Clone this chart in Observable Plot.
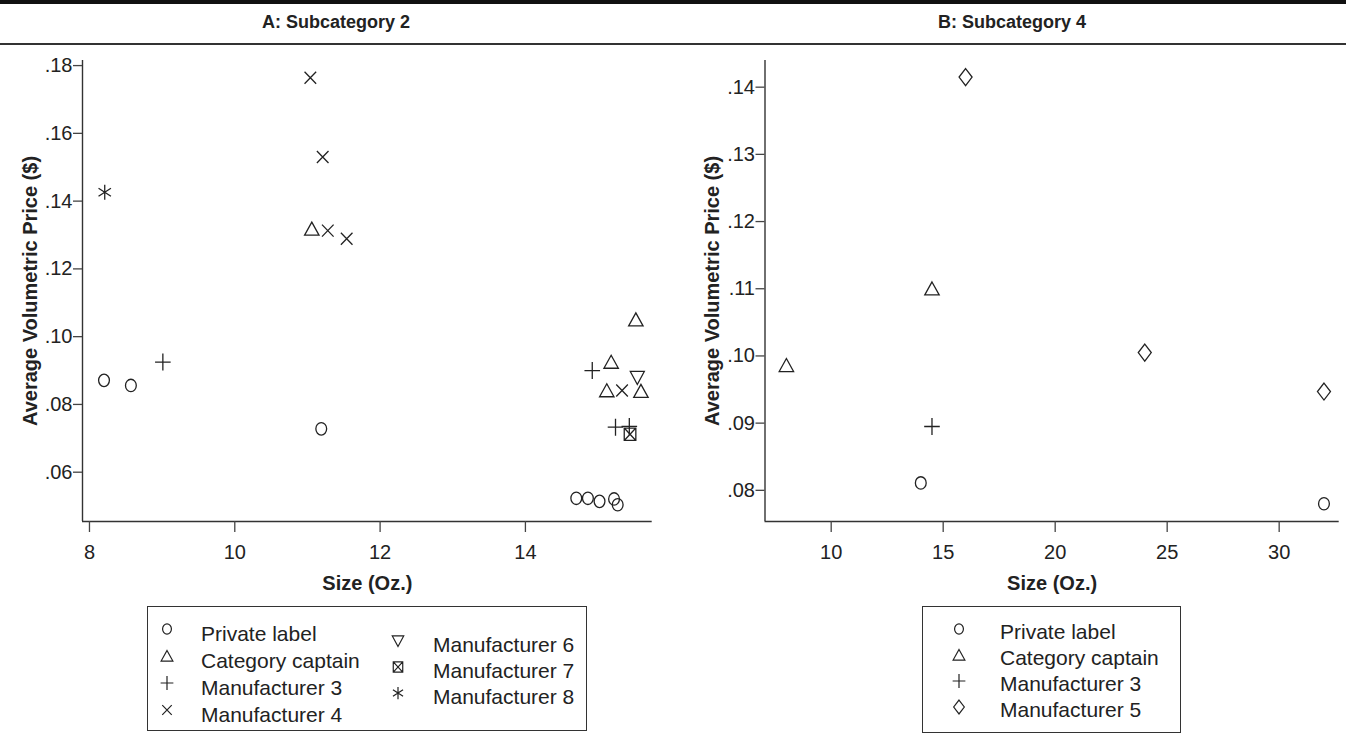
<!DOCTYPE html>
<html><head><meta charset="utf-8">
<script src="https://cdn.jsdelivr.net/npm/d3@7"></script>
<script src="https://cdn.jsdelivr.net/npm/@observablehq/plot@0.6"></script>
<style>
html,body{margin:0;padding:0;background:#fff;}
body{width:1346px;height:750px;position:relative;overflow:hidden;font-family:"Liberation Sans",Arial,Helvetica,sans-serif;color:#222;}
.abs{position:absolute;}
.rule-top{left:0;top:0;width:1346px;height:4px;background:#111;}
.rule-mid{left:0;top:43px;width:1346px;height:2px;background:#333;}
.title{top:11px;font-size:18px;font-weight:bold;line-height:22px;transform:translateX(-50%);white-space:nowrap;}
.legend{border:1.5px solid #333;box-sizing:border-box;}
.item{position:absolute;font-size:21px;line-height:24px;white-space:nowrap;color:#222;}
.sym{position:absolute;overflow:visible;}
</style></head>
<body>
<div class="abs rule-top"></div>
<div class="abs title" style="left:336px">A: Subcategory 2</div>
<div class="abs title" style="left:1012px">B: Subcategory 4</div>
<div class="abs rule-mid"></div>
<div class="abs" id="panelA" style="left:0;top:46px"></div>
<div class="abs" id="panelB" style="left:680px;top:46px"></div>
<div class="abs legend" id="legA" style="left:147px;top:606px;width:440px;height:125px"></div>
<div class="abs legend" id="legB" style="left:922px;top:606px;width:259px;height:127px"></div>
<script>
// ---------- DATA ----------
// Panel A: Subcategory 2  [size (oz.), average volumetric price ($)]
const namesA = ["Private label", "Category captain", "Manufacturer 3", "Manufacturer 4", "Manufacturer 6", "Manufacturer 7", "Manufacturer 8"];
const privateA = [[8.20, .0871], [8.57, .0856], [11.19, .0728], [14.70, .0523], [14.86, .0523], [15.02, .0514], [15.22, .0521], [15.27, .0504]];
const captainA = [[11.06, .1318], [15.52, .1050], [15.18, .0925], [15.12, .0841], [15.59, .0839]];
const manuf3A = [[9.01, .0925], [14.92, .0900], [15.24, .0733], [15.43, .0735]];
const manuf4A = [[11.04, .1764], [11.21, .1530], [11.28, .1313], [11.54, .1289], [15.33, .0841]];
const manuf6A = [[15.54, .0879]];
const manuf7A = [[15.44, .0712]];
const manuf8A = [[8.21, .1426]];
const xTicksA = [8, 10, 12, 14];
const yTicksA = [.06, .08, .10, .12, .14, .16, .18];

// Panel B: Subcategory 4
const namesB = ["Private label", "Category captain", "Manufacturer 3", "Manufacturer 5"];
const privateB = [[14, .0811], [32, .0780]];
const captainB = [[8, .0986], [14.5, .1100]];
const manuf3B = [[14.5, .0895]];
const manuf5B = [[16, .1415], [24, .1005], [32, .0947]];
const xTicksB = [10, 15, 20, 25, 30];
const yTicksB = [.08, .09, .10, .11, .12, .13, .14];

const xLabel = "Size (Oz.)";
const yLabel = "Average Volumetric Price ($)";

// ---------- SYMBOLS (custom d3 symbol types) ----------
function mk(fn) { return {draw(c, size) { const s = Math.sqrt(size / Math.PI) / 6; fn(c, s); }}; }
const symCircle = mk((c, s) => {
  const rx = 5.4 * s, ry = 6.2 * s, K = 0.5523;
  c.moveTo(rx, 0);
  c.bezierCurveTo(rx, ry * K, rx * K, ry, 0, ry);
  c.bezierCurveTo(-rx * K, ry, -rx, ry * K, -rx, 0);
  c.bezierCurveTo(-rx, -ry * K, -rx * K, -ry, 0, -ry);
  c.bezierCurveTo(rx * K, -ry, rx, -ry * K, rx, 0);
  c.closePath();
});
const symTriUp = mk((c, s) => { c.moveTo(0, -6.8 * s); c.lineTo(7.2 * s, 6.2 * s); c.lineTo(-7.2 * s, 6.2 * s); c.closePath(); });
const symTriDown = mk((c, s) => { c.moveTo(0, 6.8 * s); c.lineTo(7.0 * s, -6.2 * s); c.lineTo(-7.0 * s, -6.2 * s); c.closePath(); });
const symPlus = mk((c, s) => { c.moveTo(-7.8 * s, 0); c.lineTo(7.8 * s, 0); c.moveTo(0, -8.5 * s); c.lineTo(0, 8.5 * s); });
const symTimes = mk((c, s) => { c.moveTo(-5.8 * s, -6 * s); c.lineTo(5.8 * s, 6 * s); c.moveTo(-5.8 * s, 6 * s); c.lineTo(5.8 * s, -6 * s); });
const symBoxX = mk((c, s) => {
  const w = 5.8 * s, h = 6.2 * s;
  c.moveTo(-w, -h); c.lineTo(w, -h); c.lineTo(w, h); c.lineTo(-w, h); c.closePath();
  c.moveTo(-w, -h); c.lineTo(w, h); c.moveTo(-w, h); c.lineTo(w, -h);
});
const symAster = mk((c, s) => {
  c.moveTo(0, -7.5 * s); c.lineTo(0, 7.5 * s);
  c.moveTo(-6.2 * s, -4 * s); c.lineTo(6.2 * s, 4 * s);
  c.moveTo(-6.2 * s, 4 * s); c.lineTo(6.2 * s, -4 * s);
});
const symDiamond = mk((c, s) => { c.moveTo(0, -8.5 * s); c.lineTo(6.5 * s, 0); c.lineTo(0, 8.5 * s); c.lineTo(-6.5 * s, 0); c.closePath(); });

const seriesA = [
  {name: namesA[0], points: privateA, symbol: symCircle},
  {name: namesA[1], points: captainA, symbol: symTriUp},
  {name: namesA[2], points: manuf3A, symbol: symPlus},
  {name: namesA[3], points: manuf4A, symbol: symTimes},
  {name: namesA[4], points: manuf6A, symbol: symTriDown},
  {name: namesA[5], points: manuf7A, symbol: symBoxX},
  {name: namesA[6], points: manuf8A, symbol: symAster}
];
const seriesB = [
  {name: namesB[0], points: privateB, symbol: symCircle},
  {name: namesB[1], points: captainB, symbol: symTriUp},
  {name: namesB[2], points: manuf3B, symbol: symPlus},
  {name: namesB[3], points: manuf5B, symbol: symDiamond}
];

const INK = "#222";
const fmtPrice = d => d3.format(".2f")(d).replace(/^0/, "");

function panel({series, xDomain, yDomain, xTicks, yTicks, width, marginLeft, marginRight}) {
  return Plot.plot({
    width, height: 554,
    marginTop: 14, marginBottom: 79, marginLeft, marginRight,
    x: {domain: xDomain},
    y: {domain: yDomain},
    style: {fontFamily: "Liberation Sans, Arial, Helvetica, sans-serif", background: "transparent", overflow: "visible", color: INK},
    marks: [
      Plot.ruleX([xDomain[0]], {stroke: "#333", strokeWidth: 1.4}),
      Plot.ruleY([yDomain[0]], {stroke: "#333", strokeWidth: 1.4}),
      Plot.axisX({ticks: xTicks, tickSize: 11, tickPadding: 12, fontSize: 20, label: null, stroke: "#444", strokeWidth: 1.3, fill: INK, tickFormat: d => String(d)}),
      Plot.axisY({ticks: yTicks, tickSize: 9, tickPadding: 1, fontSize: 20, label: null, stroke: "#444", strokeWidth: 1.3, fill: INK, tickFormat: fmtPrice}),
      Plot.text([xLabel], {frameAnchor: "bottom", dy: 62, lineAnchor: "middle", textAnchor: "middle", fontSize: 20, fontWeight: "bold", fill: INK}),
      Plot.text([yLabel], {frameAnchor: "left", dx: -52, rotate: -90, lineAnchor: "middle", textAnchor: "middle", fontSize: 20, fontWeight: "bold", fill: INK}),
      ...series.map(s => Plot.dot(s.points, {x: d => d[0], y: d => d[1], symbol: s.symbol, r: 6, stroke: INK, fill: "none", strokeWidth: 1.3}))
    ]
  });
}

document.getElementById("panelA").append(panel({
  series: seriesA, xDomain: [7.904, 15.745], yDomain: [0.04545, 0.1815],
  xTicks: xTicksA, yTicks: yTicksA, width: 660, marginLeft: 82, marginRight: 8.3
}));
document.getElementById("panelB").append(panel({
  series: seriesB, xDomain: [7.045, 32.68], yDomain: [0.07536, 0.14397],
  xTicks: xTicksB, yTicks: yTicksB, width: 666, marginLeft: 84.5, marginRight: 7.3
}));

// ---------- LEGENDS ----------
function legendItem(symbol, label, sx, sy, tx, ty) {
  const ns = "http://www.w3.org/2000/svg";
  const svg = document.createElementNS(ns, "svg");
  svg.setAttribute("class", "sym");
  svg.setAttribute("width", 20); svg.setAttribute("height", 20);
  svg.style.left = (sx - 10) + "px"; svg.style.top = (sy - 10) + "px";
  const p = document.createElementNS(ns, "path");
  p.setAttribute("d", d3.symbol(symbol, Math.PI * 4.9 * 4.9)());
  p.setAttribute("transform", "translate(10,10)");
  p.setAttribute("fill", "none"); p.setAttribute("stroke", INK); p.setAttribute("stroke-width", 1.2);
  svg.append(p);
  document.body.append(svg);
  const t = document.createElement("div");
  t.className = "item"; t.textContent = label;
  t.style.left = tx + "px"; t.style.top = (ty - 11.5) + "px";
  document.body.append(t);
}
// Legend A: two columns
[0, 1, 2, 3].forEach((i, k) => legendItem(seriesA[i].symbol, seriesA[i].name, 167, 629 + 27 * k, 201, 633 + 27 * k));
[4, 5, 6].forEach((i, k) => legendItem(seriesA[i].symbol, seriesA[i].name, 398, 641 + 26 * k, 433, 644 + 26 * k));
// Legend B: one column
seriesB.forEach((s, k) => legendItem(s.symbol, s.name, 959, 629 + 26 * k, 1000, 631 + 26 * k));
</script>
</body></html>
